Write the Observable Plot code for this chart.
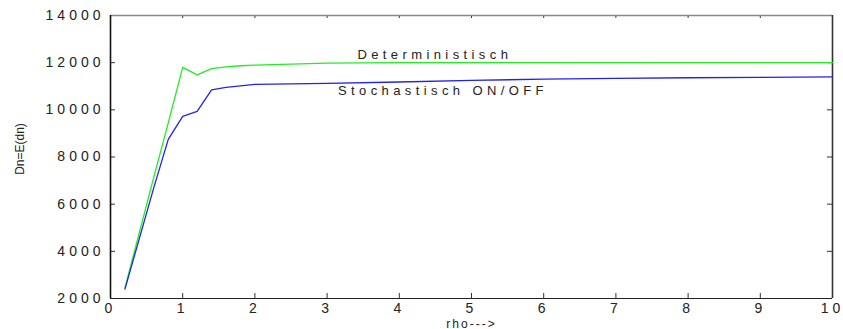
<!DOCTYPE html>
<html><head><meta charset="utf-8">
<script src="https://cdn.jsdelivr.net/npm/d3@7"></script>
<script src="https://cdn.jsdelivr.net/npm/@observablehq/plot@0.6"></script>
<style>
body{margin:0;background:#fff}
svg text{font-family:"Liberation Sans",Arial,sans-serif}
g[aria-label="y-axis tick label"] text, g[aria-label="x-axis tick label"] text{letter-spacing:4px}
g[aria-label="text"] text{letter-spacing:4.4px}
g[aria-label="x-axis label"] text{letter-spacing:2px}
</style>
</head><body>
<div id="chart"></div>
<script>
const rho = [0.2,0.4,0.6,0.8,1.0,1.2,1.4,1.6,1.8,2,3,4,5,6,7,8,9,10];
const deterministisch = [2450,4800,7150,9450,11800,11480,11750,11820,11870,11900,11980,12000,12000,12000,12000,12000,12000,12000];
const stochastisch = [2400,4550,6700,8750,9720,9930,10850,10950,11020,11080,11120,11180,11250,11300,11330,11360,11380,11400];
const xTicks = [0,1,2,3,4,5,6,7,8,9,10];
const yTicks = [2000,4000,6000,8000,10000,12000,14000];
const labelText = ["Deterministisch","Stochastisch ON/OFF"];
const labelX = [3.42,3.15];
const labelY = [12350,10800];
const yTitle = "Dn=E(dn)";
const xTitle = "rho--->";

const W = 843, H = 329, mL = 110, mR = 11, mT = 15, mB = 31;
const pw = W - mL - mR, ph = H - mT - mB, tk = 5;

const det = rho.map((x,i)=>({x, y: deterministisch[i]}));
const sto = rho.map((x,i)=>({x, y: stochastisch[i]}));
const labels = labelText.map((t,i)=>({t, x: labelX[i], y: labelY[i]}));

const chart = Plot.plot({
  width: W, height: H,
  marginLeft: mL, marginRight: mR, marginTop: mT, marginBottom: mB,
  style: {fontSize: "14px", color: "#222", background: "#fff"},
  x: {domain: [0,10]},
  y: {domain: [2000,14000]},
  marks: [
    Plot.axisY(yTicks, {tickSize: 0, tickPadding: 6, label: null, fontSize: 14, tickFormat: d => String(d)}),
    Plot.text([yTitle], {frameAnchor: "left", textAnchor: "middle", rotate: -90, dx: -90, dy: -8, fontSize: 12, fill: "#222", text: d => d}),
    Plot.axisX(xTicks, {tickSize: 0, tickPadding: 5, label: null, fontSize: 14, tickFormat: d => String(d)}),
    Plot.axisX({ticks: [], label: xTitle, labelAnchor: "center", labelArrow: "none", labelOffset: 29, fontSize: 12}),
    // inward ticks
    Plot.tickY(yTicks, {y: d=>d, insetRight: pw - tk, stroke: "#333"}),
    Plot.tickY(yTicks, {y: d=>d, insetLeft: pw - tk, stroke: "#333"}),
    Plot.tickX(xTicks, {x: d=>d, insetTop: ph - tk, stroke: "#333"}),
    Plot.tickX(xTicks, {x: d=>d, insetBottom: ph - 3, stroke: "#333"}),
    // frame
    Plot.ruleY([14000], {stroke: "#888", strokeWidth: 1.5}),
    Plot.ruleY([2000], {stroke: "#222", strokeWidth: 1.2}),
    Plot.ruleX([0], {stroke: "#111", strokeWidth: 1.6}),
    Plot.ruleX([10], {stroke: "#333", strokeWidth: 1.6}),
    // series
    Plot.line(det, {x: "x", y: "y", stroke: "#22ee22", strokeWidth: 1.3}),
    Plot.line(sto, {x: "x", y: "y", stroke: "#2222ee", strokeWidth: 1.3}),
    Plot.text(labels, {x: "x", y: "y", text: "t", textAnchor: "start", fontSize: 13, fill: "#222"})
  ]
});
document.getElementById("chart").appendChild(chart);
d3.select(chart).selectAll("text")
  .filter(function() { return this.textContent === yTitle; })
  .style("letter-spacing", "0px");
</script>
</body></html>
